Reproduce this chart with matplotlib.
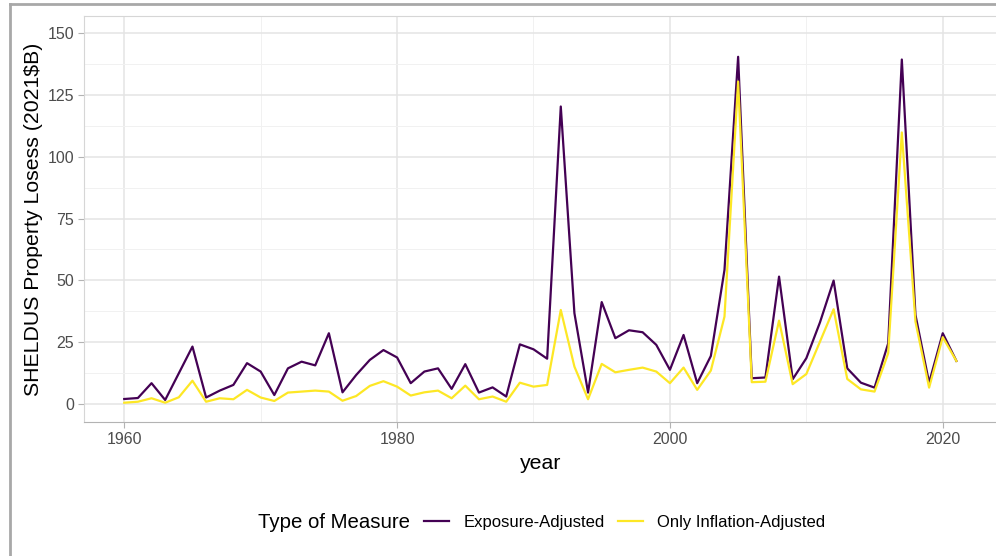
import numpy as np
import matplotlib.pyplot as plt
from matplotlib.lines import Line2D

plt.rcParams['font.family'] = ['Liberation Sans', 'DejaVu Sans']

# data (2021 $B)
years = list(range(1960, 2022))
exposure_adj = [2.0, 2.4, 8.4, 1.6, 12.4, 23.2, 2.6, 5.4, 7.7, 16.5,
                13.1, 3.6, 14.4, 17.1, 15.6, 28.6, 4.7, 11.7, 17.8, 21.8,
                18.8, 8.4, 13.1, 14.4, 6.1, 16.1, 4.6, 6.7, 3.0, 24.1,
                22.1, 18.3, 120.3, 36.7, 4.6, 41.2, 26.6, 29.8, 29.0, 23.9,
                13.8, 27.9, 8.4, 19.4, 54.2, 140.4, 10.4, 10.7, 51.5, 10.0,
                18.5, 33.0, 49.9, 14.4, 8.6, 6.6, 24.5, 139.3, 36.0, 8.6,
                28.6, 17.4]
inflation_adj = [0.5, 0.9, 2.3, 0.5, 2.7, 9.4, 0.9, 2.3, 1.9, 5.7,
                 2.6, 1.2, 4.6, 5.0, 5.4, 5.0, 1.3, 3.2, 7.3, 9.2,
                 7.0, 3.4, 4.7, 5.4, 2.3, 7.4, 1.9, 3.0, 0.9, 8.6,
                 7.0, 7.7, 38.0, 15.1, 1.9, 16.2, 12.8, 13.8, 14.7, 13.1,
                 8.4, 14.7, 5.7, 13.5, 35.3, 130.4, 8.8, 9.0, 33.7, 8.0,
                 12.1, 25.2, 38.3, 10.1, 5.9, 5.0, 20.5, 109.8, 33.3, 6.6,
                 27.0, 17.4]
series_names = ['Exposure-Adjusted', 'Only Inflation-Adjusted']
colors = ['#440154', '#FDE725']

fig = plt.figure(figsize=(9.96, 5.56), dpi=100)
ax = fig.add_axes([84/996, 1 - 422/556, 914/996, 406/556])

ax.plot(years, inflation_adj, color=colors[1], lw=1.6, zorder=3)
ax.plot(years, exposure_adj, color=colors[0], lw=1.6, zorder=2)

ax.set_xlim(1957.05, 2024.05)
ax.set_ylim(-7.3, 156.9)
ax.set_xticks([1960, 1980, 2000, 2020])
ax.set_yticks([0, 25, 50, 75, 100, 125, 150])
ax.set_xticks([1970, 1990, 2010], minor=True)
ax.set_yticks(np.arange(12.5, 150, 25), minor=True)
ax.grid(True, which='major', color='#e4e4e4', lw=1.1)
ax.grid(True, which='minor', color='#f1f1f1', lw=0.7)
ax.set_axisbelow(True)

for s in ['left', 'top']:
    ax.spines[s].set_color('#d6d6d6')
ax.spines['bottom'].set_color('#b3b3b3')
ax.spines['right'].set_visible(False)
ax.tick_params(which='major', length=4, color='#b3b3b3', labelcolor='#4d4d4d',
               labelsize=11.5, pad=3)
ax.tick_params(which='minor', length=0)

ax.set_xlabel('year', fontsize=15.3, color='black', labelpad=5)
ax.set_ylabel('SHELDUS Property Losess (2021$B)', fontsize=15.3, color='black', labelpad=3)

handles = [Line2D([], [], color=c, lw=1.6) for c in colors]
fig.text(258/996, 1 - 522/556, 'Type of Measure', fontsize=14.7, va='center', ha='left')
fig.legend(handles, series_names, loc='center left', bbox_to_anchor=(424/996, 1 - 522/556),
           ncol=2, frameon=False, fontsize=12, handlelength=1.5, handletextpad=0.85,
           columnspacing=0.8, borderpad=0, borderaxespad=0)

# outer frame of the cropped screenshot
fig.add_artist(Line2D([10/996, 10/996], [0, 1 - 4/556], color='#a8a8a8', lw=2))
fig.add_artist(Line2D([10/996, 1], [1 - 4/556, 1 - 4/556], color='#a8a8a8', lw=2))

fig.savefig('out.png', dpi=100)
